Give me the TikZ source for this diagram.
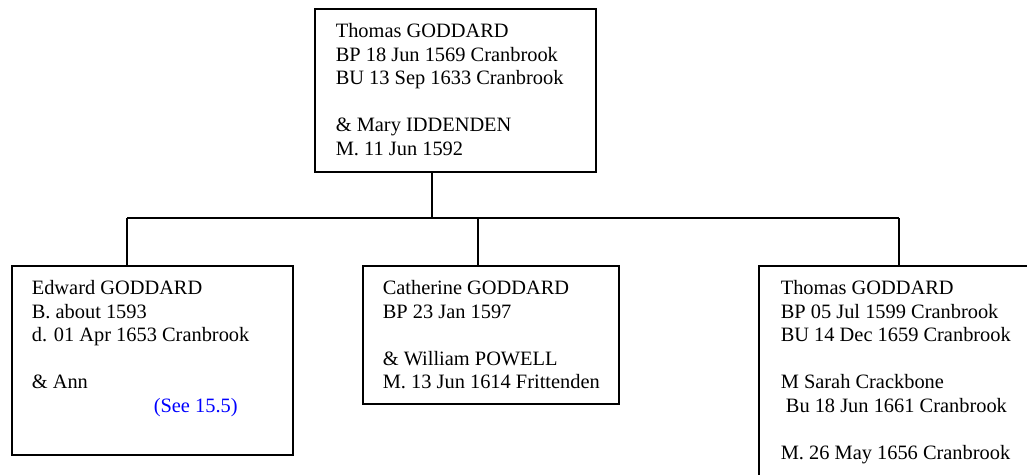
\documentclass[tikz,border=0pt]{standalone}
\usepackage{fontspec}
\setmainfont{Liberation Serif}
\begin{document}
\begin{tikzpicture}[x=1pt,y=-1pt,line width=1.6pt,
	font=\fontsize{20.4}{23.5}\selectfont,
	box/.style={draw,rectangle,anchor=north west,inner sep=0pt},
	txt/.style={anchor=north west,inner sep=0pt,align=left}]
	\useasboundingbox (0,0) rectangle (1027,474);
	\clip (0,0) rectangle (1027,474);
	\node[box,minimum width=281pt,minimum height=163pt] (tom) at (314,8) {};
	\node[txt] (tomtxt) at ([shift={(21,15)}]tom.north west) {Thomas GODDARD\\BP 18 Jun 1569 Cranbrook\\BU 13 Sep 1633 Cranbrook\\[23.5pt]\& Mary IDDENDEN\\M. 11 Jun 1592};
	\node[box,minimum width=281pt,minimum height=189pt] (edward) at (11,265) {};
	\node[txt] (edwardtxt) at ([shift={(20,15)}]edward.north west) {Edward GODDARD\\B. about 1593\\d. 01 Apr 1653 Cranbrook\\[23.5pt]\& Ann\\\hspace*{122pt}\textcolor{blue}{(See 15.5)}};
	\node[box,minimum width=256pt,minimum height=138pt] (cath) at (362,265) {};
	\node[txt] (cathtxt) at ([shift={(20,15)}]cath.north west) {Catherine GODDARD\\BP 23 Jan 1597\\[23.5pt]\& William POWELL\\M. 13 Jun 1614 Frittenden};
	\node[box,minimum width=360pt,minimum height=260pt] (thomas) at (758,265) {};
	\node[txt] (thomastxt) at ([shift={(22,15)}]thomas.north west) {Thomas GODDARD\\BP 05 Jul 1599 Cranbrook\\BU 14 Dec 1659 Cranbrook\\[23.5pt]M Sarah Crackbone\\\hspace*{0.25em}Bu 18 Jun 1661 Cranbrook\\[23.5pt]M. 26 May 1656 Cranbrook};
	\coordinate (j0) at (432,218);
	\coordinate (j1) at (127,218);
	\coordinate (j2) at (478,218);
	\coordinate (j3) at (899,218);
	\draw (tom.south -| j0) -- (j0);
	\draw (j1) -- (j3);
	\draw (j1) -- (edward.north -| j1);
	\draw (j2) -- (cath.north -| j2);
	\draw (j3) -- (thomas.north -| j3);
\end{tikzpicture}
\end{document}
